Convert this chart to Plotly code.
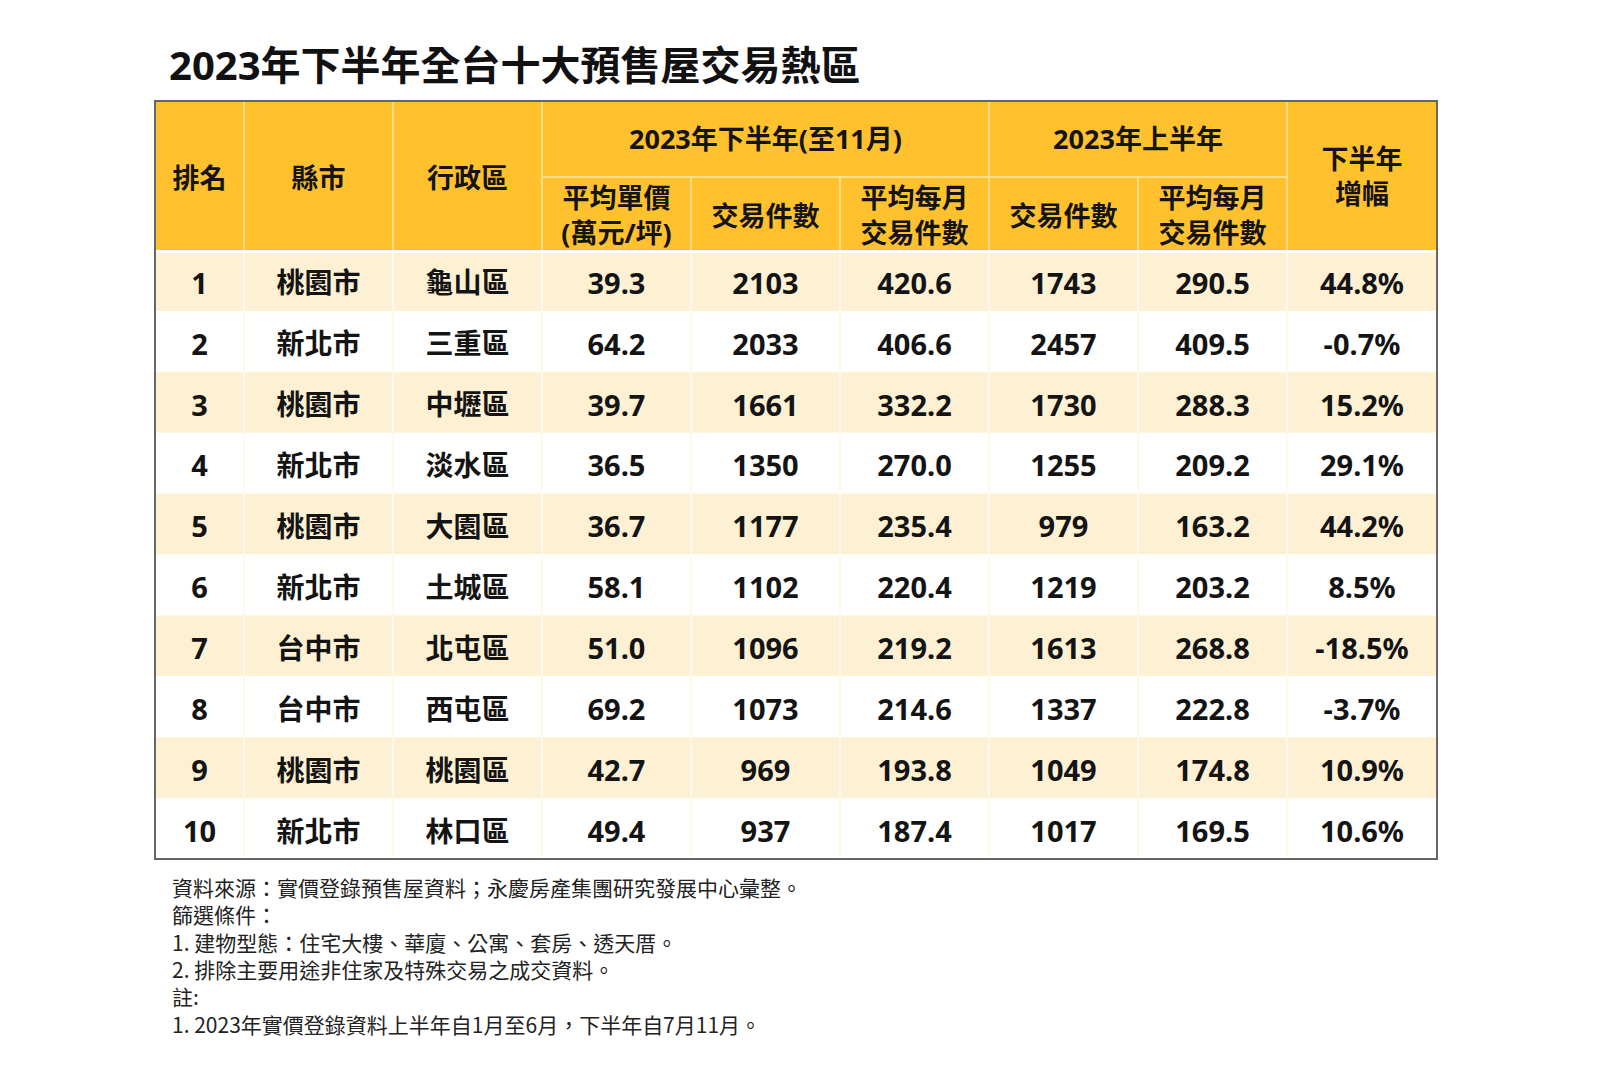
import plotly.graph_objects as go

# ---------------- data ----------------
title = "2023年下半年全台十大預售屋交易熱區"
ranks = [1, 2, 3, 4, 5, 6, 7, 8, 9, 10]
cities = ["桃園市", "新北市", "桃園市", "新北市", "桃園市", "新北市", "台中市", "台中市", "桃園市", "新北市"]
districts = ["龜山區", "三重區", "中壢區", "淡水區", "大園區", "土城區", "北屯區", "西屯區", "桃園區", "林口區"]
h2_price = [39.3, 64.2, 39.7, 36.5, 36.7, 58.1, 51.0, 69.2, 42.7, 49.4]
h2_count = [2103, 2033, 1661, 1350, 1177, 1102, 1096, 1073, 969, 937]
h2_monthly = [420.6, 406.6, 332.2, 270.0, 235.4, 220.4, 219.2, 214.6, 193.8, 187.4]
h1_count = [1743, 2457, 1730, 1255, 979, 1219, 1613, 1337, 1049, 1017]
h1_monthly = [290.5, 409.5, 288.3, 209.2, 163.2, 203.2, 268.8, 222.8, 174.8, 169.5]
growth = [44.8, -0.7, 15.2, 29.1, 44.2, 8.5, -18.5, -3.7, 10.9, 10.6]

group_labels = ["2023年下半年(至11月)", "2023年上半年"]
col_labels = ["排名", "縣市", "行政區", "平均單價<br>(萬元/坪)", "交易件數", "平均每月<br>交易件數",
              "交易件數", "平均每月<br>交易件數", "下半年<br>增幅"]
notes = [
    "資料來源：實價登錄預售屋資料；永慶房產集團研究發展中心彙整。",
    "篩選條件：",
    "1. 建物型態：住宅大樓、華廈、公寓、套房、透天厝。",
    "2. 排除主要用途非住家及特殊交易之成交資料。",
    "註:",
    "1. 2023年實價登錄資料上半年自1月至6月，下半年自7月11月。",
]

# ---------------- layout constants ----------------
OFF = 8  # page body margin
W, H = 1600, 1067
edges = [155, 244, 393, 542, 691, 840, 989, 1138, 1287, 1437]
top, mid, hdr_bot, bottom = 101, 177, 250, 859
nrows = len(ranks)
rh = (bottom - hdr_bot) / nrows

HEADER = "#FFC12E"
HEADER_LINE = "#FFDE85"
CREAM = "#FEF1D3"
TXT = "#141414"
FONT = "Noto Sans, Noto Sans CJK TC, sans-serif"
CJK = "Noto Sans CJK TC, Noto Sans, sans-serif"

fig = go.Figure()
shapes = []

shapes.append(dict(type="rect", x0=edges[0], x1=edges[-1], y0=top, y1=hdr_bot,
                   fillcolor=HEADER, line_width=0, layer="below"))
for i in range(nrows):
    y0 = hdr_bot + i * rh
    shapes.append(dict(type="rect", x0=edges[0], x1=edges[-1], y0=y0, y1=y0 + rh,
                       fillcolor=CREAM if i % 2 == 0 else "white", line_width=0, layer="below"))
for x in [edges[1], edges[2], edges[3], edges[6], edges[8]]:
    shapes.append(dict(type="line", x0=x, x1=x, y0=top, y1=hdr_bot, line=dict(color=HEADER_LINE, width=2)))
for x in [edges[4], edges[5], edges[7]]:
    shapes.append(dict(type="line", x0=x, x1=x, y0=mid, y1=hdr_bot, line=dict(color=HEADER_LINE, width=2)))
shapes.append(dict(type="line", x0=edges[3], x1=edges[8], y0=mid, y1=mid, line=dict(color=HEADER_LINE, width=2)))
for x in edges[1:-1]:
    shapes.append(dict(type="line", x0=x, x1=x, y0=hdr_bot, y1=bottom, line=dict(color="#FFF9EC", width=2)))
shapes.append(dict(type="line", x0=edges[0], x1=edges[-1], y0=hdr_bot + 1.5, y1=hdr_bot + 1.5,
                   line=dict(color="white", width=3)))
shapes.append(dict(type="rect", x0=edges[0], x1=edges[-1], y0=top, y1=bottom,
                   line=dict(color="#666666", width=2), fillcolor="rgba(0,0,0,0)"))


def centers(a, b):
    return (edges[a] + edges[b]) / 2


hdr_x, hdr_y, hdr_t = [], [], []
hdr_x += [centers(3, 6), centers(6, 8)]
hdr_y += [(top + mid) / 2 + 3, (top + mid) / 2 + 3]
hdr_t += group_labels
for j, lab in enumerate(col_labels):
    if j < 3:
        cy = (top + hdr_bot) / 2 + 6
    elif j == 8:
        cy = (top + hdr_bot) / 2 + 4
    else:
        cy = (mid + hdr_bot) / 2 + (5 if "<br>" in lab else 6)
    hdr_x.append(centers(j, j + 1))
    hdr_y.append(cy)
    hdr_t.append(lab)
fig.add_trace(go.Scatter(x=hdr_x, y=hdr_y, text=hdr_t, mode="text", hoverinfo="skip",
                         textfont=dict(family=FONT, size=27, color=TXT, weight="bold")))

row_y = [hdr_bot + (i + 0.5) * rh + 6 for i in range(nrows)]
columns = [
    [str(v) for v in ranks],
    cities,
    districts,
    [f"{v:.1f}" for v in h2_price],
    [str(v) for v in h2_count],
    [f"{v:.1f}" for v in h2_monthly],
    [str(v) for v in h1_count],
    [f"{v:.1f}" for v in h1_monthly],
    [f"{v:.1f}%" for v in growth],
]
for j, vals in enumerate(columns):
    is_cjk = j in (1, 2)
    fig.add_trace(go.Scatter(
        x=[centers(j, j + 1)] * nrows, y=row_y, text=vals, mode="text", hoverinfo="skip",
        textfont=dict(family=FONT, size=28 if is_cjk else 29, color=TXT, weight="bold")))

annotations = [dict(x=167, y=64, xref="x", yref="y", text=title, showarrow=False,
                    xanchor="left", yanchor="middle",
                    font=dict(family=FONT, size=40, color="#111111", weight="bold"))]
annotations.append(dict(x=170, y=870, xref="x", yref="y", text="<br>".join(notes), showarrow=False,
                        xanchor="left", yanchor="top", align="left",
                        font=dict(family=CJK, size=21, color="#222222")))

fig.update_layout(
    width=W - OFF, height=H - OFF, margin=dict(l=0, r=0, t=0, b=0),
    paper_bgcolor="white", plot_bgcolor="white", showlegend=False,
    xaxis=dict(range=[OFF, W], visible=False, fixedrange=True),
    yaxis=dict(range=[H, OFF], visible=False, fixedrange=True),
    shapes=shapes, annotations=annotations,
)
fig.write_html("out.html")
